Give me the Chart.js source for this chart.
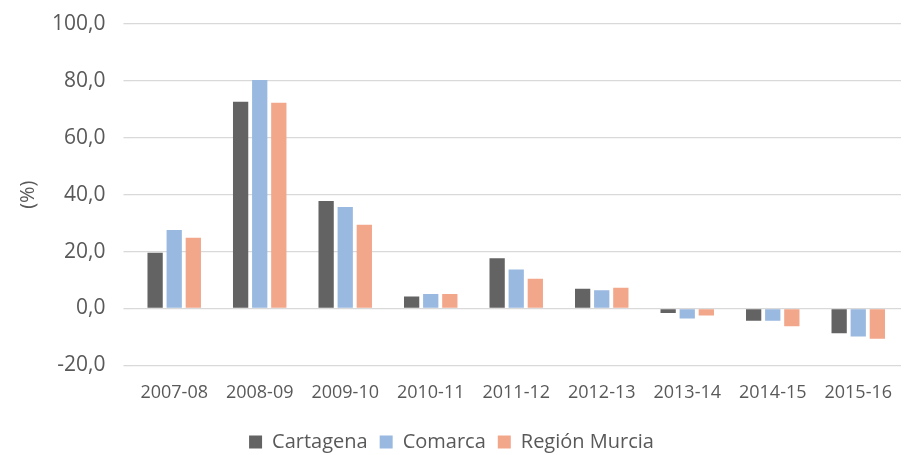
<!DOCTYPE html>
<html>
<head>
<meta charset="utf-8">
<script src="https://cdn.jsdelivr.net/npm/chart.js@4"></script>
<style>
  html, body { margin: 0; padding: 0; background: #fff; }
  .wrap { width: 909px; height: 455px; position: relative; }
</style>
</head>
<body>
<div class="wrap"><canvas id="chart"></canvas></div>
<script>
const labels = ["2007-08", "2008-09", "2009-10", "2010-11", "2011-12", "2012-13", "2013-14", "2014-15", "2015-16"]
const cartagena = [19.6, 72.7, 37.8, 4.2, 17.7, 6.9, -1.6, -4.3, -8.7]
const comarca = [27.6, 80.3, 35.7, 5.1, 13.7, 6.4, -3.5, -4.3, -9.8]
const regionMurcia = [24.9, 72.3, 29.4, 5.1, 10.5, 7.3, -2.5, -6.2, -10.6]

const textColor = "#595959"
const ctx = document.getElementById("chart").getContext("2d")

new Chart(ctx, {
    type: "bar",
    data: {
        labels: labels,
        datasets: [
            { label: "Cartagena", data: cartagena, backgroundColor: "#636363" },
            { label: "Comarca", data: comarca, backgroundColor: "#99b9e0" },
            { label: "Región Murcia", data: regionMurcia, backgroundColor: "#f2a68a" }
        ]
    },
    options: {
        responsive: true,
        maintainAspectRatio: false,
        animation: false,
        categoryPercentage: 0.67,
        barPercentage: 0.8,
        layout: { padding: { left: 2, right: 8, top: 24, bottom: -7 } },
        scales: {
            x: {
                grid: { display: false },
                border: { display: false },
                ticks: { color: textColor, font: { family: "Open Sans", size: 18 }, padding: 9 },
                // a bit more room between the tick labels and the legend
                afterFit: axis => { axis.height += 7 }
            },
            y: {
                min: -20,
                max: 100,
                grid: { color: "#d9d9d9", lineWidth: 1.3 },
                border: { display: false },
                ticks: {
                    stepSize: 20,
                    color: textColor,
                    padding: 18,
                    font: { family: "Open Sans", size: 21 },
                    callback: v => v.toFixed(1).replace(".", ",")
                },
                title: {
                    display: true,
                    text: "(%)",
                    color: textColor,
                    font: { family: "Open Sans", size: 20 },
                    padding: { top: 14, bottom: -6 }
                },
                afterFit: axis => { axis.paddingTop = 0 }
            }
        },
        plugins: {
            legend: {
                position: "bottom",
                labels: {
                    color: textColor,
                    font: { family: "Open Sans", size: 20 },
                    boxWidth: 13,
                    boxHeight: 13,
                    padding: 12
                }
            },
            tooltip: { enabled: false }
        }
    }
})
</script>
</body>
</html>
